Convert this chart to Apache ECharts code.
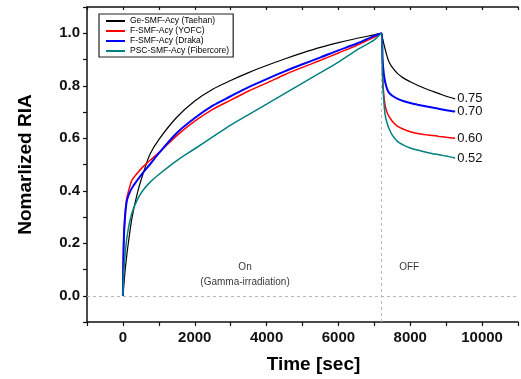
<!DOCTYPE html>
<html>
<head>
<meta charset="utf-8">
<script src="https://cdn.jsdelivr.net/npm/echarts@6/dist/echarts.min.js"></script>
<style>
html,body{margin:0;padding:0;background:#fff;}
#c{width:521px;height:379px;}
</style>
</head>
<body>
<div id="c"></div>
<script>
// ---- data ----
var times = [0, 20, 50, 100, 150, 250, 400, 550, 750, 1000, 1500, 2000, 2500, 3000, 3500, 4000, 4500, 5000, 5500, 6000, 6500, 7000, 7200, 7230, 7260, 7300, 7350, 7400, 7500, 7650, 7800, 8000, 8200, 8500, 8800, 9000, 9250];
var seriesNames = ["Ge-SMF-Acy (Taehan)", "F-SMF-Acy (YOFC)", "F-SMF-Acy (Draka)", "PSC-SMF-Acy (Fibercore)"];
var taehan = [0, 0.03, 0.08, 0.145, 0.2, 0.295, 0.39, 0.46, 0.538, 0.595, 0.68, 0.742, 0.787, 0.82, 0.85, 0.877, 0.902, 0.925, 0.946, 0.964, 0.98, 0.994, 1.0, 0.98, 0.962, 0.94, 0.915, 0.893, 0.87, 0.846, 0.83, 0.815, 0.802, 0.785, 0.77, 0.76, 0.75];
var yofc = [0, 0.2, 0.29, 0.365, 0.395, 0.44, 0.467, 0.49, 0.515, 0.545, 0.61, 0.665, 0.71, 0.745, 0.78, 0.81, 0.842, 0.87, 0.897, 0.925, 0.953, 0.985, 1.0, 0.84, 0.77, 0.725, 0.70, 0.685, 0.665, 0.645, 0.635, 0.625, 0.618, 0.612, 0.607, 0.604, 0.600];
var draka = [0, 0.19, 0.285, 0.355, 0.38, 0.41, 0.44, 0.467, 0.5, 0.543, 0.62, 0.677, 0.724, 0.76, 0.795, 0.825, 0.855, 0.882, 0.908, 0.935, 0.96, 0.99, 1.0, 0.9, 0.85, 0.815, 0.79, 0.775, 0.762, 0.75, 0.742, 0.734, 0.728, 0.72, 0.712, 0.707, 0.702];
var fibercore = [0, 0.08, 0.14, 0.21, 0.255, 0.315, 0.365, 0.40, 0.432, 0.462, 0.515, 0.56, 0.605, 0.65, 0.69, 0.73, 0.77, 0.81, 0.85, 0.89, 0.935, 0.975, 1.0, 0.83, 0.75, 0.69, 0.66, 0.64, 0.612, 0.587, 0.575, 0.563, 0.555, 0.545, 0.537, 0.532, 0.525];
var endLabels = ["0.75", "0.60", "0.70", "0.52"];
var xTickLabels = [0, 2000, 4000, 6000, 8000, 10000];
var yTickLabels = [0.0, 0.2, 0.4, 0.6, 0.8, 1.0];
var switchOffTime = 7200;
var notes = [
  {text: "On", x: 3400, y: 0.107},
  {text: "(Gamma-irradiation)", x: 3400, y: 0.05},
  {text: "OFF", x: 7970, y: 0.107}
];

// ---- style ----
var colors = ["#000000", "#ff0000", "#0000ff", "#008080"];
var widths = [1.2, 1.5, 2, 1.5];
var FONT = "'Liberation Sans', Arial, sans-serif";
var allValues = [taehan, yofc, draka, fibercore];

var chart = echarts.init(document.getElementById('c'), null, {renderer: 'canvas'});

var series = allValues.map(function (vals, i) {
  var s = {
    name: seriesNames[i],
    type: 'line',
    xAxisIndex: 0,
    yAxisIndex: 0,
    data: times.map(function (t, k) { return [t, vals[k]]; }),
    showSymbol: false,
    symbol: 'none',
    smooth: 0.3,
    lineStyle: {color: colors[i], width: widths[i]},
    itemStyle: {color: colors[i]},
    z: 3 + i,
    endLabel: {
      show: true,
      formatter: endLabels[i],
      fontFamily: FONT,
      fontSize: 13,
      color: '#111',
      distance: 2
    },
    silent: true
  };
  if (i === 0) {
    s.markLine = {
      silent: true,
      symbol: 'none',
      animation: false,
      label: {show: false},
      lineStyle: {type: [3, 3], color: '#b8b8b8', width: 1},
      data: [
        [{coord: [switchOffTime, -0.1]}, {coord: [switchOffTime, 1.0]}],
        [{coord: [-1000, 0]}, {coord: [11000, 0]}]
      ]
    };
  }
  return s;
});

series.push({
  type: 'scatter',
  name: 'notes',
  symbolSize: 0,
  silent: true,
  data: notes.map(function (n) { return {value: [n.x, n.y], name: n.text}; }),
  label: {
    show: true,
    position: 'inside',
    formatter: function (p) { return p.name; },
    fontFamily: FONT,
    fontSize: 10,
    color: '#000'
  }
});

var option = {
  animation: false,
  backgroundColor: '#fff',
  textStyle: {fontFamily: FONT},
  grid: {left: 87, top: 7, right: -4.5, bottom: 57, containLabel: false},
  legend: {
    data: seriesNames,
    orient: 'vertical',
    left: 99,
    top: 14,
    padding: [2, 4, 1, 7],
    itemGap: 0,
    itemWidth: 19,
    itemHeight: 2,
    itemStyle: {borderWidth: 0},
    icon: 'rect',
    borderColor: '#222',
    borderWidth: 1.2,
    backgroundColor: '#fff',
    textStyle: {fontFamily: FONT, fontSize: 8.5, color: '#000', lineHeight: 10},
    selectedMode: false
  },
  xAxis: [{
    type: 'value',
    min: -1000,
    max: 11000,
    interval: 1000,
    position: 'bottom',
    name: 'Time [sec]',
    nameLocation: 'middle',
    nameGap: 33,
    nameTextStyle: {fontFamily: FONT, fontSize: 19, fontWeight: 'bold', color: '#000', padding: [0, 0, 0, 22]},
    axisLine: {show: true, onZero: false, lineStyle: {color: '#111', width: 1.5}},
    axisTick: {show: true, inside: false, length: 4, lineStyle: {color: '#111', width: 1.2}},
    axisLabel: {
      margin: 8,
      fontFamily: FONT, fontSize: 15, fontWeight: 'bold', color: '#111',
      formatter: function (v) { return xTickLabels.indexOf(v) >= 0 ? String(v) : ''; }
    },
    splitLine: {show: false}
  }, {
    type: 'value',
    min: -1000,
    max: 11000,
    interval: 1000,
    position: 'top',
    axisLine: {show: true, onZero: false, lineStyle: {color: '#111', width: 1.5}},
    axisTick: {show: true, inside: true, length: 3, lineStyle: {color: '#111', width: 1.2}},
    axisLabel: {show: false},
    splitLine: {show: false}
  }],
  yAxis: [{
    type: 'value',
    min: -0.1,
    max: 1.1,
    interval: 0.1,
    name: 'Nomarlized RIA',
    nameLocation: 'middle',
    nameGap: 52,
    nameTextStyle: {fontFamily: FONT, fontSize: 19, fontWeight: 'bold', color: '#000'},
    axisLine: {show: true, onZero: false, lineStyle: {color: '#111', width: 1.5}},
    axisTick: {show: true, inside: false, length: 4, lineStyle: {color: '#111', width: 1.2}},
    axisLabel: {
      margin: 7,
      fontFamily: FONT, fontSize: 15, fontWeight: 'bold', color: '#111',
      formatter: function (v) {
        for (var i = 0; i < yTickLabels.length; i++) {
          if (Math.abs(v - yTickLabels[i]) < 1e-6) return yTickLabels[i].toFixed(1);
        }
        return '';
      }
    },
    splitLine: {show: false}
  }],
  series: series
};
chart.setOption(option);
</script>
</body>
</html>
